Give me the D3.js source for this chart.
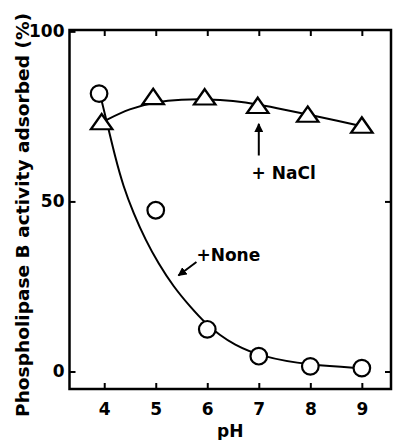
<!DOCTYPE html>
<html>
<head>
<meta charset="utf-8">
<script src="https://cdn.jsdelivr.net/npm/d3@7"></script>
<style>
  body { margin: 0; background: #fff; }
  text { font-family: "DejaVu Sans", sans-serif; font-weight: bold; fill: #000; }
</style>
</head>
<body>
<script>
(function () {

  // measured points
  let nonePH    = [3.9, 5, 6, 7, 8, 9];
  let noneVal   = [81.7, 47.4, 12.4, 4.5, 1.5, 1.0];
  let naclPH    = [3.95, 4.95, 5.95, 6.98, 7.95, 9.0];
  let naclVal   = [73.0, 80.4, 80.3, 77.8, 75.2, 72.0];

  // hand-drawn fitted curves
  let noneCurvePH  = [3.93, 3.96, 4.08, 4.21, 4.37, 4.57, 4.8, 5.05, 5.34, 5.67, 5.96, 6.25, 6.5, 7.02, 8.0, 9.0];
  let noneCurveVal = [81.0, 78.9, 71.5, 63.2, 54.4, 46.5, 38.7, 31.8, 25.0, 19.0, 14.2, 10.6, 8.1, 4.4, 1.8, 1.0];
  let naclCurvePH  = [3.98, 4.5, 5.0, 5.5, 6.0, 6.5, 7.0, 7.5, 8.0, 8.5, 9.0];
  let naclCurveVal = [73.5, 77.4, 79.3, 80.0, 80.1, 79.6, 78.5, 77.0, 75.4, 73.8, 72.1];

  let xTicks = [4, 5, 6, 7, 8, 9];
  let yTicks = [0, 50, 100];

  let width  = 394;
  let height = 440;
  let margin = { top: 30, right: 3, bottom: 51, left: 69.5 };

  let x = d3.scaleLinear().domain([3.326, 9.566]).range([margin.left, width - margin.right]);
  let y = d3.scaleLinear().domain([-5.15, 100.4]).range([height - margin.bottom, margin.top]);

  let svg = d3.select('body').append('svg')
      .attr('width', width)
      .attr('height', height);

  // frame
  svg.append('rect')
    .attr('x', x.range()[0])
    .attr('y', y.range()[1])
    .attr('width', x.range()[1] - x.range()[0])
    .attr('height', y.range()[0] - y.range()[1])
    .attr('fill', 'none')
    .attr('stroke', '#000')
    .attr('stroke-width', 2.5);

  // ticks all point inward
  let tickLen = 6;
  let fmt = d3.format('d');
  svg.append('g').attr('transform', 'translate(0,' + y.range()[0] + ')')
    .call(d3.axisBottom(x).tickValues(xTicks).tickFormat(fmt).tickSizeInner(-tickLen).tickSizeOuter(0).tickPadding(14))
    .call(g => g.select('.domain').remove());
  svg.append('g').attr('transform', 'translate(0,' + y.range()[1] + ')')
    .call(d3.axisTop(x).tickValues(xTicks).tickSizeInner(-tickLen).tickSizeOuter(0).tickFormat(''))
    .call(g => g.select('.domain').remove());
  svg.append('g').attr('transform', 'translate(' + x.range()[0] + ',0)')
    .call(d3.axisLeft(y).tickValues(yTicks).tickFormat(fmt).tickSizeInner(-tickLen).tickSizeOuter(0).tickPadding(5))
    .call(g => g.select('.domain').remove());
  svg.append('g').attr('transform', 'translate(' + x.range()[1] + ',0)')
    .call(d3.axisRight(y).tickValues([0, 50]).tickSizeInner(-tickLen).tickSizeOuter(0).tickFormat(''))
    .call(g => g.select('.domain').remove());

  svg.selectAll('.tick line').attr('stroke', '#000').attr('stroke-width', 2);
  svg.selectAll('.tick text').style('font-size', '17px').attr('fill', '#000')
    .style('font-family', '"DejaVu Sans", sans-serif').style('font-weight', 'bold');

  // axis titles
  svg.append('text')
    .attr('x', (x.range()[0] + x.range()[1]) / 2)
    .attr('y', 437)
    .attr('text-anchor', 'middle')
    .style('font-size', '17px')
    .text('pH');

  svg.append('text')
    .attr('transform', 'translate(29,' + 215 + ') rotate(-90)')
    .attr('text-anchor', 'middle')
    .attr('textLength', 404)
    .attr('lengthAdjust', 'spacingAndGlyphs')
    .style('font-size', '17px')
    .text('Phospholipase B  activity adsorbed (%)');

  // curves
  let line = d3.line().curve(d3.curveBasis)
    .x(d => x(d[0])).y(d => y(d[1]));

  svg.append('path')
    .datum(d3.zip(noneCurvePH, noneCurveVal))
    .attr('d', line)
    .attr('fill', 'none').attr('stroke', '#000').attr('stroke-width', 2);

  svg.append('path')
    .datum(d3.zip(naclCurvePH, naclCurveVal))
    .attr('d', line)
    .attr('fill', 'none').attr('stroke', '#000').attr('stroke-width', 2);

  // markers
  svg.selectAll('circle.none').data(d3.zip(nonePH, noneVal))
    .enter().append('circle')
    .attr('class', 'none')
    .attr('cx', d => x(d[0]))
    .attr('cy', d => y(d[1]))
    .attr('r', 8.3)
    .attr('fill', '#fff').attr('stroke', '#000').attr('stroke-width', 2.2);

  let tri = d3.symbol().type(d3.symbolTriangle).size(150);
  svg.selectAll('path.nacl').data(d3.zip(naclPH, naclVal))
    .enter().append('path')
    .attr('class', 'nacl')
    .attr('d', tri)
    .attr('transform', d => 'translate(' + x(d[0]) + ',' + (y(d[1]) + 1) + ') scale(1.15,0.95)')
    .attr('fill', '#fff').attr('stroke', '#000').attr('stroke-width', 2.2);

  // annotations
  let defs = svg.append('defs');
  defs.append('marker')
    .attr('id', 'head')
    .attr('viewBox', '0 0 10 10')
    .attr('refX', 9).attr('refY', 5)
    .attr('markerWidth', 4.5).attr('markerHeight', 4.5)
    .attr('markerUnits', 'strokeWidth')
    .attr('orient', 'auto')
    .append('path').attr('d', 'M0,0 L10,5 L0,10 z').attr('fill', '#000');

  svg.append('line')
    .attr('x1', x(7)).attr('y1', y(63.5))
    .attr('x2', x(7)).attr('y2', y(72.8))
    .attr('stroke', '#000').attr('stroke-width', 2)
    .attr('marker-end', 'url(#head)');

  svg.append('text')
    .attr('x', x(6.86)).attr('y', y(56.6))
    .style('font-size', '17px')
    .text('+ NaCl');

  svg.append('line')
    .attr('x1', x(5.79)).attr('y1', y(32.2))
    .attr('x2', x(5.44)).attr('y2', y(28.2))
    .attr('stroke', '#000').attr('stroke-width', 2)
    .attr('marker-end', 'url(#head)');

  svg.append('text')
    .attr('x', x(5.79)).attr('y', y(32.5))
    .style('font-size', '17px')
    .text('+None');

})();
</script>
</body>
</html>
